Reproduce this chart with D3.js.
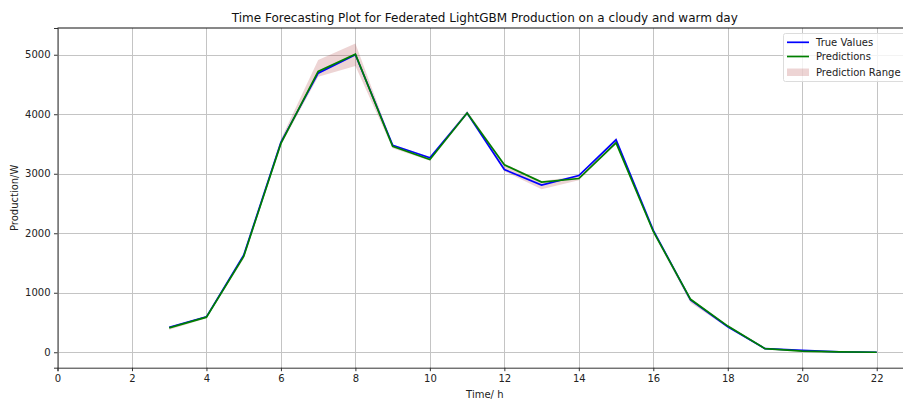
<!DOCTYPE html>
<html>
<head>
<meta charset="utf-8">
<script src="https://cdn.jsdelivr.net/npm/d3@7"></script>
<style>
  html, body { margin: 0; padding: 0; background: #fff; }
  svg { display: block; font-family: "DejaVu Sans", sans-serif; }
</style>
</head>
<body>
<svg id="chart" width="903" height="403"></svg>
<script>
// Hourly PV production, measured vs. forecast
const hours = [3, 4, 5, 6, 7, 8, 9, 10, 11, 12, 13, 14, 15, 16, 17, 18, 19, 20, 21, 22];
const trueValues = [420, 595, 1630, 3530, 4690, 5000, 3480, 3270, 4020, 3070, 2810, 2970, 3570, 2050, 880, 430, 60, 30, 5, 0];
const predictions = [410, 590, 1610, 3510, 4720, 5010, 3460, 3240, 4020, 3150, 2860, 2920, 3520, 2030, 890, 440, 60, 20, 5, 0];
const rangeLow = [380, 570, 1570, 3480, 4630, 4810, 3430, 3220, 3990, 3040, 2740, 2890, 3500, 2000, 830, 410, 50, 10, 0, 0];
const rangeHigh = [430, 610, 1640, 3580, 4910, 5190, 3490, 3280, 4060, 3170, 2880, 2960, 3600, 2060, 900, 460, 70, 40, 10, 5];
const xTicks = [0, 2, 4, 6, 8, 10, 12, 14, 16, 18, 20, 22];
const yTicks = [0, 1000, 2000, 3000, 4000, 5000];

const svg = d3.select("#chart");
const plot = { left: 57.5, right: 912.1, top: 28, bottom: 367.7 };

const x = d3.scaleLinear().domain([0, 22.95]).range([plot.left, plot.right]);
const y = d3.scaleLinear().domain([-259.5, 5449.5]).range([plot.bottom, plot.top]);

// grid
const grid = svg.append("g").attr("stroke", "#c4c4c4").attr("stroke-width", 1);
grid.selectAll(".gx").data(xTicks).join("line")
  .attr("x1", d => Math.round(x(d)) + 0.5).attr("x2", d => Math.round(x(d)) + 0.5)
  .attr("y1", plot.top).attr("y2", plot.bottom);
grid.selectAll(".gy").data(yTicks).join("line")
  .attr("y1", d => Math.round(y(d)) + 0.5).attr("y2", d => Math.round(y(d)) + 0.5)
  .attr("x1", plot.left).attr("x2", plot.right);

const rows = hours.map((h, i) => ({ h, t: trueValues[i], p: predictions[i], lo: rangeLow[i], hi: rangeHigh[i] }));

// prediction range band
svg.append("path").datum(rows)
  .attr("fill", "#a52a2a").attr("fill-opacity", 0.2)
  .attr("d", d3.area().x(d => x(d.h)).y0(d => y(d.lo)).y1(d => y(d.hi)));

// lines
svg.append("path").datum(rows)
  .attr("fill", "none").attr("stroke", "#0000ff").attr("stroke-width", 1.7)
  .attr("d", d3.line().x(d => x(d.h)).y(d => y(d.t)));
svg.append("path").datum(rows)
  .attr("fill", "none").attr("stroke", "#008000").attr("stroke-width", 1.7)
  .attr("d", d3.line().x(d => x(d.h)).y(d => y(d.p)));

// axes
const xAxis = svg.append("g").attr("transform", `translate(0,${plot.bottom})`)
  .call(d3.axisBottom(x).tickValues(xTicks).tickSize(3.5).tickPadding(3.5).tickFormat(d3.format("d")));
const yAxis = svg.append("g").attr("transform", `translate(${plot.left},0)`)
  .call(d3.axisLeft(y).tickValues(yTicks).tickSize(3.5).tickPadding(3.5).tickFormat(d3.format("d")));
[xAxis, yAxis].forEach(a => {
  a.selectAll("text").attr("font-family", "DejaVu Sans").attr("font-size", 10).attr("fill", "#222");
  a.select(".domain").attr("stroke", "#333").attr("stroke-width", 1);
  a.selectAll(".tick line").attr("stroke", "#333");
});
// top spine
svg.append("line").attr("x1", plot.left).attr("x2", plot.right).attr("y1", plot.top).attr("y2", plot.top)
  .attr("stroke", "#111").attr("stroke-width", 1);

// title and axis labels
const cx = (plot.left + plot.right) / 2;
svg.append("text").attr("x", cx).attr("y", 22).attr("text-anchor", "middle")
  .attr("font-size", 12).attr("fill", "#111")
  .text("Time Forecasting Plot for Federated LightGBM Production on a cloudy and warm day");
svg.append("text").attr("x", cx).attr("y", 398).attr("text-anchor", "middle")
  .attr("font-size", 10).attr("fill", "#222").text("Time/ h");
svg.append("text").attr("transform", `translate(18,${(plot.top + plot.bottom) / 2}) rotate(-90)`)
  .attr("text-anchor", "middle").attr("font-size", 10).attr("fill", "#222").text("Production/W");

// legend
const lg = svg.append("g");
lg.append("rect").attr("x", 783.5).attr("y", 33.5).attr("width", 130).attr("height", 48).attr("rx", 2)
  .attr("fill", "#fff").attr("fill-opacity", 0.8).attr("stroke", "#dcdcdc");
const items = [
  { label: "True Values", kind: "line", color: "#0000ff" },
  { label: "Predictions", kind: "line", color: "#008000" },
  { label: "Prediction Range", kind: "patch", color: "#a52a2a" }
];
const rowY = [42.3, 56.5, 72];
items.forEach((it, i) => {
  if (it.kind === "line") {
    lg.append("line").attr("x1", 787).attr("x2", 809).attr("y1", rowY[i]).attr("y2", rowY[i])
      .attr("stroke", it.color).attr("stroke-width", 1.7);
  } else {
    lg.append("rect").attr("x", 787).attr("y", rowY[i] - 3.5).attr("width", 22).attr("height", 7.5)
      .attr("fill", it.color).attr("fill-opacity", 0.2);
  }
  lg.append("text").attr("x", 816).attr("y", rowY[i] + 3.6).attr("font-size", 10).attr("fill", "#222")
    .text(it.label);
});
</script>
</body>
</html>
